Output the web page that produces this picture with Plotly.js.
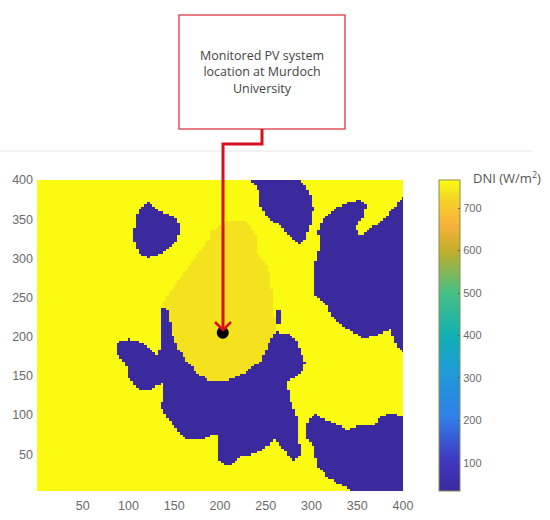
<!DOCTYPE html>
<html>
<head>
<meta charset="utf-8">
<script src="https://cdn.plot.ly/plotly-3.0.1.min.js"></script>
<style>
  html, body { margin: 0; padding: 0; background: #fff; }
  #chart { width: 550px; height: 520px; }
</style>
</head>
<body>
<div id="chart"></div>
<script>
// Outlines, as [x, y] in grid units
const cloudWest = [[122,371],[113,363],[107,355],[106,321],[111,308],[120,301],[128,302],[138,308],[153,323],[157,338],[152,352],[138,358],[129,363]];
const cloudNorth = [[232,400],[288,400],[293,391],[300,378],[302,363],[298,340],[293,323],[287,317],[278,325],[267,340],[251,353],[244,366],[242,387]];
const cloudEast = [[400,380],[389,363],[378,349],[364,338],[353,329],[348,338],[358,357],[359,368],[351,375],[338,370],[324,363],[313,349],[306,334],[310,321],[306,302],[302,285],[302,253],[318,240],[320,228],[333,213],[349,204],[356,198],[371,202],[386,209],[391,192],[400,179]];
const cloudSliver = [[262,235],[267,235],[267,217],[262,217]];
const cloudCentre = [[136,236],[142,236],[146,217],[149,198],[153,187],[164,168],[175,154],[189,143],[206,143],[226,154],[244,168],[253,190],[262,209],[266,202],[275,204],[284,194],[289,179],[293,168],[291,156],[274,143],[275,124],[284,98],[285,73],[289,50],[280,43],[267,58],[260,71],[253,60],[236,50],[222,47],[211,37],[206,35],[197,45],[198,77],[189,73],[178,69],[164,69],[153,81],[144,94],[136,109],[138,141],[122,132],[109,134],[100,149],[97,166],[86,179],[87,192],[100,197],[116,192],[131,177],[136,187]];
const cloudSouthEast = [[304,102],[315,94],[327,88],[340,81],[351,88],[367,86],[375,98],[387,102],[400,98],[400,0],[342,0],[342,5],[320,18],[306,35],[302,60],[293,73],[296,94]];
const siteZone = [[138,245],[189,327],[189,334],[211,349],[231,346],[240,327],[240,310],[253,285],[258,251],[260,217],[262,209],[253,190],[244,168],[226,154],[206,143],[189,143],[175,154],[164,168],[153,187],[147,209],[142,225]];

const cloudOutlines = [cloudWest, cloudNorth, cloudEast, cloudSliver, cloudCentre, cloudSouthEast];

// DNI levels (W/m2)
const clearDni = 766;
const siteDni = 735;
const cloudDni = 34;

const siteX = [203];
const siteY = [205];

const axisTicks = [50, 100, 150, 200, 250, 300, 350, 400];
const colorbarTicks = [100, 200, 300, 400, 500, 600, 700];

const boxLines = ["Monitored PV system", "location at Murdoch", "University"];

const dniColors = [
  [0, "#3a2a9e"],
  [0.1, "#4038c0"],
  [0.24, "#3080e8"],
  [0.38, "#1f9ad8"],
  [0.5, "#10b0b4"],
  [0.64, "#48c084"],
  [0.77, "#c0ae2a"],
  [0.855, "#f8b23c"],
  [0.93, "#f8d028"],
  [0.96, "#f4e41e"],
  [1, "#fbfb12"],
];

// Plot area in page pixels, used to place the callout
const plotLeft = 37;
const plotRight = 403;
const plotTop = 180;
const plotBottom = 491;

const paperX = (px) => (px - plotLeft) / (plotRight - plotLeft);
const paperY = (py) => (plotBottom - py) / (plotBottom - plotTop);

function insideOutline(x, y, outline) {
  let inside = false;
  for (let i = 0, j = outline.length - 1; i < outline.length; j = i++) {
    const [xi, yi] = outline[i];
    const [xj, yj] = outline[j];
    if (yi > y !== yj > y && x < ((xj - xi) * (y - yi)) / (yj - yi) + xi) {
      inside = !inside;
    }
  }
  return inside;
}

// Small cells, so the stair steps stay close to the outlines.
// The last row and column run past 400 and get clipped by the axis range.
const cellCentres = [];
for (let c = 1.5; c < 402; c += 3) cellCentres.push(c);

const dniGrid = cellCentres.map((row) =>
  cellCentres.map((col) => {
    const x = Math.min(col, 399);
    const y = Math.min(row, 399);
    if (cloudOutlines.some((o) => insideOutline(x, y, o))) return cloudDni;
    if (insideOutline(x, y, siteZone)) return siteDni;
    return clearDni;
  })
);

const tickFont = { family: "Liberation Sans", size: 12.5, color: "#6a6a6a" };

const traces = [
  {
    type: "heatmap",
    x: cellCentres,
    y: cellCentres,
    z: dniGrid,
    zmin: cloudDni,
    zmax: clearDni,
    zsmooth: false,
    colorscale: dniColors,
    colorbar: {
      thicknessmode: "pixels",
      thickness: 21,
      lenmode: "pixels",
      len: plotBottom - plotTop,
      x: paperX(439),
      xanchor: "left",
      xpad: 0,
      y: 0.5,
      yanchor: "middle",
      ypad: 0,
      tickvals: colorbarTicks,
      ticks: "inside",
      ticklen: 2,
      tickcolor: "#555",
      tickfont: { family: "Liberation Sans", size: 11, color: "#6a6a6a" },
      outlinecolor: "#8c8c5a",
      outlinewidth: 1,
    },
  },
  {
    type: "scatter",
    mode: "markers",
    x: siteX,
    y: siteY,
    marker: { color: "#000", size: 12 },
    showlegend: false,
  },
];

const connector = { color: "#d8101c", width: 3 };

const layout = {
  width: 550,
  height: 520,
  margin: {
    l: plotLeft,
    r: 550 - plotRight,
    t: plotTop,
    b: 520 - plotBottom,
  },
  paper_bgcolor: "#fff",
  plot_bgcolor: "#fff",
  xaxis: {
    range: [0, 400],
    tickvals: axisTicks,
    ticks: "",
    showgrid: false,
    zeroline: false,
    showline: false,
    ticklabelstandoff: 5,
    tickfont: tickFont,
  },
  yaxis: {
    range: [3, 400],
    tickvals: axisTicks,
    ticks: "",
    showgrid: false,
    zeroline: false,
    showline: false,
    ticklabelstandoff: 3,
    tickfont: tickFont,
  },
  shapes: [
    // Grey rule across the page
    {
      type: "line", xref: "paper", yref: "paper",
      x0: paperX(0), x1: paperX(532), y0: paperY(151), y1: paperY(151),
      line: { color: "#e6e6e6", width: 1 },
    },
    // Callout box
    {
      type: "rect", xref: "paper", yref: "paper",
      x0: paperX(179), x1: paperX(345), y0: paperY(15), y1: paperY(129),
      line: { color: "#e2505c", width: 1.5 },
    },
    // Connector, box to site
    {
      type: "path", xref: "paper", yref: "paper",
      path:
        `M ${paperX(262)} ${paperY(129)} L ${paperX(262)} ${paperY(144)} ` +
        `L ${paperX(223)} ${paperY(144)} L ${paperX(223)} ${paperY(330)}`,
      line: connector,
    },
    // Arrow head
    {
      type: "path", xref: "paper", yref: "paper",
      path:
        `M ${paperX(215)} ${paperY(322)} L ${paperX(223)} ${paperY(330)} ` +
        `L ${paperX(231)} ${paperY(322)}`,
      line: { color: connector.color, width: 2.5 },
    },
  ],
  annotations: [
    {
      xref: "paper", yref: "paper",
      x: paperX(262), y: paperY(72),
      xanchor: "center", yanchor: "middle",
      text: boxLines.join("<br>"), showarrow: false,
      font: { family: "Open Sans", size: 12.5, color: "#444" },
    },
    {
      xref: "paper", yref: "paper",
      x: paperX(471), y: paperY(177),
      xanchor: "left", yanchor: "middle",
      text: "DNI (W/m<sup>2</sup>)", showarrow: false,
      font: { family: "Open Sans", size: 13, color: "#555" },
    },
  ],
  showlegend: false,
};

Plotly.newPlot("chart", traces, layout, { displayModeBar: false });
</script>
</body>
</html>
